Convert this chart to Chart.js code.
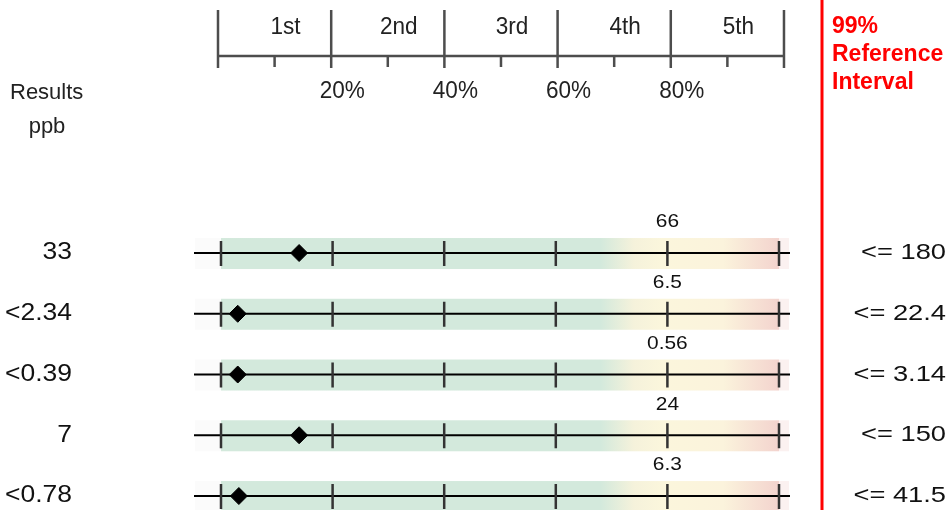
<!DOCTYPE html>
<html>
<head>
<meta charset="utf-8">
<script src="https://cdn.jsdelivr.net/npm/chart.js@4.4.1/dist/chart.umd.min.js"></script>
<style>
  html, body { margin: 0; padding: 0; background: #fff; }
</style>
</head>
<body>
<canvas id="pctChart" width="951" height="510"></canvas>
<script>
// data
const results = ['33', '<2.34', '<0.39', '7', '<0.78'];
const percentiles = [14, 3, 3, 14, 3.2];
const p80Values = ['66', '6.5', '0.56', '24', '6.3'];
const refIntervals = ['<= 180', '<= 22.4', '<= 3.14', '<= 150', '<= 41.5'];
const quintiles = ['1st', '2nd', '3rd', '4th', '5th'];
const pctTicks = [0, 20, 40, 60, 80, 100];
const pctLabels = ['20%', '40%', '60%', '80%'];

const FONT = '"Liberation Sans", Arial, sans-serif';

function txt(ctx, s, x, y, font, color, align, sx) {
    ctx.save();
    ctx.font = font;
    ctx.fillStyle = color;
    ctx.textAlign = align;
    ctx.textBaseline = 'middle';
    ctx.translate(x, y);
    ctx.scale(sx || 1, 1);
    ctx.fillText(s, 0, 0);
    ctx.restore();
}

const rowsPlugin = {
    id: 'rows',
    beforeDatasetsDraw(chart) {
        const ctx = chart.ctx;
        const xs = chart.scales.x, xt = chart.scales.xt, ys = chart.scales.y;
        const x0 = xs.getPixelForValue(0), x1 = xs.getPixelForValue(100);

        // top quintile scale
        ctx.save();
        ctx.strokeStyle = '#4d4d4d';
        ctx.lineWidth = 2.5;
        ctx.beginPath();
        ctx.moveTo(xt.getPixelForValue(0), 56);
        ctx.lineTo(xt.getPixelForValue(100), 56);
        pctTicks.forEach(p => {
            const px = xt.getPixelForValue(p);
            ctx.moveTo(px, 10); ctx.lineTo(px, 68);
        });
        for (let i = 0; i < quintiles.length; i++) {
            const px = xt.getPixelForValue(pctTicks[i] + 10);
            ctx.moveTo(px, 55); ctx.lineTo(px, 67);
        }
        ctx.stroke();
        ctx.restore();

        quintiles.forEach((q, i) => {
            txt(ctx, q, xt.getPixelForValue(pctTicks[i] + 10) + 11, 28, '23px ' + FONT, '#222', 'center', 0.98);
        });
        pctLabels.forEach((l, i) => {
            txt(ctx, l, xt.getPixelForValue(pctTicks[i + 1]) + 11, 92, '23px ' + FONT, '#222', 'center', 0.98);
        });

        // row bands, lines and ticks
        results.forEach((r, i) => {
            const y = ys.getPixelForValue(i);
            ctx.save();
            ctx.fillStyle = '#fbfbfb';
            ctx.fillRect(x0 - 26, y - 15, 26, 31);
            const g = ctx.createLinearGradient(x0, 0, x1, 0);
            g.addColorStop(0, '#d3e9dc');
            g.addColorStop(0.68, '#d3e9dc');
            g.addColorStop(0.74, '#f5f2db');
            g.addColorStop(0.79, '#fbf6dc');
            g.addColorStop(0.9, '#fbf3dc');
            g.addColorStop(1, '#f3d3ce');
            ctx.fillStyle = g;
            ctx.fillRect(x0, y - 15, x1 - x0, 31);
            ctx.fillStyle = '#fbf1f0';
            ctx.fillRect(x1, y - 15, 10, 31);

            ctx.strokeStyle = '#000';
            ctx.lineWidth = 2;
            ctx.beginPath();
            ctx.moveTo(x0 - 27, y);
            ctx.lineTo(x1 + 11, y);
            ctx.stroke();

            ctx.strokeStyle = '#333';
            ctx.lineWidth = 2.5;
            ctx.beginPath();
            pctTicks.forEach(p => {
                const px = xs.getPixelForValue(p);
                ctx.moveTo(px, y - 12); ctx.lineTo(px, y + 13);
            });
            ctx.stroke();
            ctx.restore();
        });
    },
    afterDraw(chart) {
        const ctx = chart.ctx;
        const xs = chart.scales.x, ys = chart.scales.y;

        txt(ctx, 'Results', 10, 93, '22px ' + FONT, '#222', 'left', 1.0);
        txt(ctx, 'ppb', 47, 127, '22px ' + FONT, '#222', 'center', 1.0);

        results.forEach((r, i) => {
            const y = ys.getPixelForValue(i);
            txt(ctx, r, 72, y, '23px ' + FONT, '#111', 'right', 1.15);
            txt(ctx, p80Values[i], xs.getPixelForValue(80), y - 31, '19px ' + FONT, '#111', 'center', 1.1);
            txt(ctx, refIntervals[i], 946, y, '22px ' + FONT, '#111', 'right', 1.24);
        });

        // reference interval divider
        ctx.save();
        ctx.fillStyle = '#ff0000';
        ctx.fillRect(820.5, 0, 3, 510);
        ctx.restore();
        ['99%', 'Reference', 'Interval'].forEach((s, i) => {
            txt(ctx, s, 832, 27 + i * 28, 'bold 23px ' + FONT, '#ff0000', 'left', 1.0);
        });
    }
};

new Chart(document.getElementById('pctChart').getContext('2d'), {
    type: 'scatter',
    data: {
        datasets: [{
            label: 'Result percentile',
            data: percentiles.map((p, i) => ({ x: p, y: i })),
            pointStyle: 'rectRot',
            pointRadius: 8.5,
            pointHoverRadius: 8.5,
            backgroundColor: '#000',
            borderColor: '#000',
            borderWidth: 1
        }]
    },
    options: {
        responsive: false,
        animation: false,
        layout: { autoPadding: false, padding: { left: 221, right: 172, top: 0, bottom: 0 } },
        scales: {
            x: { type: 'linear', min: 0, max: 100, display: false },
            xt: { type: 'linear', axis: 'x', min: 0.53, max: 99.12, display: false },
            y: { type: 'linear', min: -4.165, max: 4.23, reverse: true, display: false }
        },
        plugins: {
            legend: { display: false },
            tooltip: { enabled: false }
        }
    },
    plugins: [rowsPlugin]
});
</script>
</body>
</html>
